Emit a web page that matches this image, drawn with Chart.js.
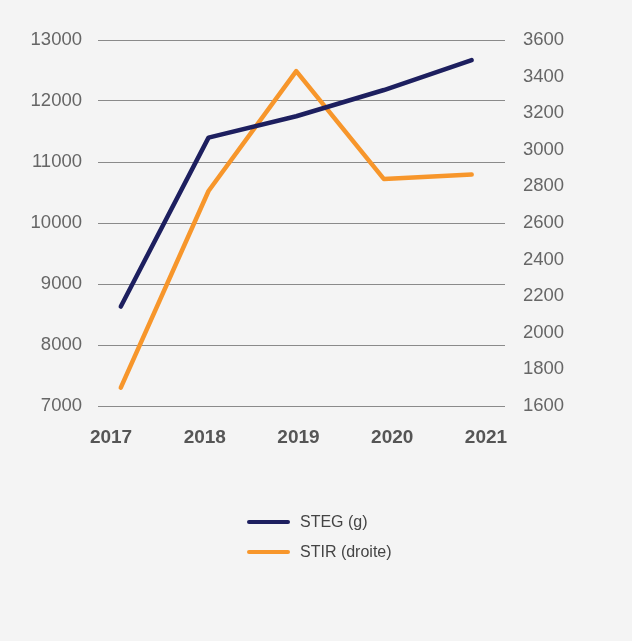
<!DOCTYPE html>
<html>
<head>
<meta charset="utf-8">
<script src="https://cdn.jsdelivr.net/npm/chart.js@4"></script>
<style>
  body { margin: 0; background: #f4f4f4; }
  #wrap { position: relative; width: 632px; height: 641px; background: #f4f4f4; }
  #legend { position: absolute; left: 247px; top: 507px; font-family: "Liberation Sans", Arial, sans-serif; font-size: 16px; color: #444; }
  .item { display: flex; align-items: center; height: 30px; }
  .swatch { width: 43px; height: 4px; border-radius: 2px; margin-right: 10px; }
</style>
</head>
<body>
<div id="wrap">
  <canvas id="chart" width="632" height="641"></canvas>
  <div id="legend"></div>
</div>
<script>
const years = [2017, 2018, 2019, 2020, 2021];
const steg = [8630, 11400, 11750, 12180, 12670];
const stir = [1700, 2775, 3430, 2840, 2865];
const seriesNames = ['STEG (g)', 'STIR (droite)'];
const seriesColors = ['#1d1f5f', '#f7962b'];

const font = { family: '"Liberation Sans", Arial, sans-serif', size: 18.5 };

const ctx = document.getElementById('chart').getContext('2d');
const myChart = new Chart(ctx, {
  type: 'line',
  data: {
    datasets: [
      {
        label: seriesNames[0],
        data: years.map((y, i) => ({ x: y, y: steg[i] })),
        borderColor: seriesColors[0],
        xAxisID: 'x',
        yAxisID: 'y',
      },
      {
        label: seriesNames[1],
        data: years.map((y, i) => ({ x: y, y: stir[i] })),
        borderColor: seriesColors[1],
        xAxisID: 'x',
        yAxisID: 'y1',
      },
    ]
  },
  options: {
    responsive: false,
    animation: false,
    layout: {
      padding: { left: 0, right: 0, top: 40, bottom: 185 },
    },
    elements: {
      line: { borderWidth: 4.5, tension: 0, borderCapStyle: 'round', borderJoinStyle: 'round' },
      point: { radius: 0 },
    },
    plugins: {
      legend: { display: false },
      tooltip: { enabled: false },
    },
    scales: {
      // positions the data
      x: {
        type: 'linear',
        display: false,
        min: 2016.74,
        max: 2021.38,
      },
      // year labels (sit a little wider than the points in the original)
      xLabels: {
        type: 'linear',
        position: 'bottom',
        min: 2016.861,
        max: 2021.203,
        afterBuildTicks: scale => { scale.ticks = years.map(v => ({ value: v })); },
        afterFit: scale => { scale.height = 50; },
        grid: { display: false },
        border: { display: false },
        ticks: {
          color: '#555',
          font: { family: font.family, size: 19, weight: 'bold' },
          padding: 12,
          maxRotation: 0,
          callback: v => String(v),
        },
      },
      y: {
        position: 'left',
        min: 7000,
        max: 13000,
        afterFit: scale => { scale.width = 98; },
        ticks: { stepSize: 1000, color: '#666', font: font, padding: 16, callback: v => String(v) },
        grid: { color: '#8a8a8a', lineWidth: 1, drawTicks: false },
        border: { display: false },
      },
      y1: {
        position: 'right',
        min: 1600,
        max: 3600,
        afterFit: scale => { scale.width = 127; },
        ticks: { stepSize: 200, color: '#666', font: font, padding: 10, callback: v => String(v) },
        grid: { display: false },
        border: { display: false },
      },
    },
  },
});

// legend (vertical, below the chart)
const legendEl = document.getElementById('legend');
seriesNames.forEach((name, i) => {
  const item = document.createElement('div');
  item.className = 'item';
  item.innerHTML = '<span class="swatch" style="background:' + seriesColors[i] + '"></span><span>' + name + '</span>';
  legendEl.appendChild(item);
});
</script>
</body>
</html>
